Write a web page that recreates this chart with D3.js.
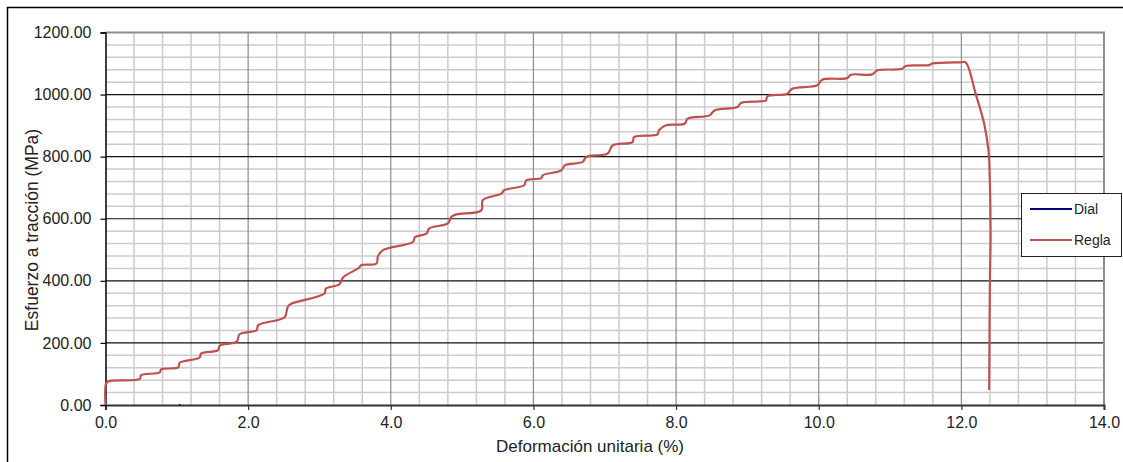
<!DOCTYPE html>
<html>
<head>
<meta charset="utf-8">
<script src="https://cdnjs.cloudflare.com/ajax/libs/d3/7.8.5/d3.min.js"></script>
<style>
  body { margin:0; background:#fff; }
  text { font-family:"Liberation Sans", Arial, sans-serif; fill:#222; }
</style>
</head>
<body>
<div id="chart-area"></div>
<script>
// strain (%) and stress (MPa), series "Regla"
var reglaStrain = [0, 0.01, 0.05, 0.48, 0.50, 0.76, 0.78, 1.02, 1.04, 1.32, 1.34, 1.58, 1.60, 1.84, 1.88,
  2.12, 2.14, 2.51, 2.54, 2.56, 2.61, 3.07, 3.09, 3.28, 3.33, 3.56, 3.58, 3.80, 3.82, 3.89,
  4.31, 4.34, 4.50, 4.54, 4.80, 4.85, 4.92, 5.27, 5.29, 5.55, 5.59, 5.87, 5.90, 6.11, 6.13,
  6.39, 6.44, 6.69, 6.74, 7.04, 7.11, 7.39, 7.41, 7.74, 7.76, 7.86, 8.12, 8.16, 8.47, 8.54,
  8.86, 8.91, 9.17, 9.26, 9.28, 9.56, 9.63, 9.98, 10.05, 10.40, 10.45, 10.75, 10.82, 11.17,
  11.22, 11.55, 11.59, 11.99, 12.06, 12.20, 12.32, 12.38, 12.40, 12.41, 12.40, 12.39];
var reglaStress = [0, 70, 77, 84, 96, 105, 115, 121, 136, 153, 166, 177, 191, 204, 228,
  241, 257, 282, 302, 318, 327, 359, 375, 389, 411, 443, 450, 456, 479, 499,
  525, 541, 552, 569, 585, 606, 614, 627, 660, 681, 692, 708, 724, 731, 740,
  756, 772, 783, 799, 810, 836, 847, 863, 872, 885, 901, 906, 922, 933, 949,
  960, 973, 978, 981, 994, 1003, 1019, 1030, 1048, 1053, 1064, 1065, 1078, 1083,
  1092, 1095, 1100, 1104, 1104, 1003, 906, 820, 713, 550, 392, 48];

// series "Dial" (only a speck near the origin)
var dialStrain = [1.03, 1.05];
var dialStress = [0, 0];

var seriesNames = ["Dial", "Regla"];
var seriesColors = ["#000080", "#c0504d"];

var yTicks = [0, 200, 400, 600, 800, 1000, 1200];
var xTicks = [0, 2, 4, 6, 8, 10, 12, 14];

var margin = { left:105.5, right:19, top:32.5, bottom:57 };
var W = 1123, H = 462;
var width = W - margin.left - margin.right,
    height = H - margin.top - margin.bottom;

var svg = d3.select("#chart-area")
    .append("svg")
        .attr("width", W)
        .attr("height", H);

// outer frame (only left + top visible)
svg.append("rect")
    .attr("x", 7.5).attr("y", 7.5)
    .attr("width", 1300).attr("height", 600)
    .attr("fill", "none")
    .attr("stroke", "#000")
    .attr("stroke-width", 1.5);

var g = svg.append("g")
    .attr("transform", "translate(" + margin.left + ", " + margin.top + ")");

var x = d3.scaleLinear().domain([0, 14]).range([0, width]);
var y = d3.scaleLinear().domain([0, 1200]).range([height, 0]);

// minor grid
var xMinor = d3.range(0, 14.001, 0.4).filter(function(d){ return Math.abs(d / 2 - Math.round(d / 2)) > 0.01; });
var yMinor = d3.range(0, 1200, 40).filter(function(d){ return d % 200 != 0; });

g.append("g").selectAll("line")
    .data(xMinor)
    .enter().append("line")
      .attr("x1", function(d){ return x(d); })
      .attr("x2", function(d){ return x(d); })
      .attr("y1", 0).attr("y2", height)
      .attr("stroke", "#cccccc").attr("stroke-width", 1.5);

g.append("g").selectAll("line")
    .data(yMinor)
    .enter().append("line")
      .attr("y1", function(d){ return y(d); })
      .attr("y2", function(d){ return y(d); })
      .attr("x1", 0).attr("x2", width)
      .attr("stroke", "#cccccc").attr("stroke-width", 1.5);

// major grid
g.append("g").selectAll("line")
    .data(xTicks.slice(1, -1))
    .enter().append("line")
      .attr("x1", function(d){ return x(d); })
      .attr("x2", function(d){ return x(d); })
      .attr("y1", 0).attr("y2", height)
      .attr("stroke", "#8c8c8c").attr("stroke-width", 1.2);

g.append("g").selectAll("line")
    .data(yTicks.slice(1, -1))
    .enter().append("line")
      .attr("y1", function(d){ return y(d); })
      .attr("y2", function(d){ return y(d); })
      .attr("x1", 0).attr("x2", width)
      .attr("stroke", "#111").attr("stroke-width", 1.2);

// plot border top + right
g.append("path")
    .attr("d", "M0,0H" + width + "V" + height)
    .attr("fill", "none")
    .attr("stroke", "#8c8c8c")
    .attr("stroke-width", 2);

// axes
var xAxisCall = d3.axisBottom(x)
    .tickValues(xTicks)
    .tickSize(5)
    .tickFormat(d3.format(".1f"));
var xAxisGroup = g.append("g")
    .attr("class", "x-axis")
    .attr("transform", "translate(0," + height + ")")
    .call(xAxisCall);
xAxisGroup.select(".domain").attr("stroke", "#333").attr("stroke-width", 2);
xAxisGroup.selectAll(".tick line").attr("stroke", "#333").attr("stroke-width", 1.2);
xAxisGroup.selectAll("text")
    .attr("font-size", "16px")
    .attr("y", 12)
    .attr("dy", "0.71em");

var yAxisCall = d3.axisLeft(y)
    .tickValues(yTicks)
    .tickSize(5)
    .tickFormat(d3.format(".2f"));
var yAxisGroup = g.append("g")
    .attr("class", "y-axis")
    .call(yAxisCall);
yAxisGroup.select(".domain").attr("stroke", "#000").attr("stroke-width", 1.5);
yAxisGroup.selectAll(".tick line").attr("stroke", "#000").attr("stroke-width", 1.2);
yAxisGroup.selectAll("text")
    .attr("font-size", "16px")
    .attr("x", -14);
svg.selectAll(".tick text").attr("fill", "#222");

// axis labels
svg.append("text")
    .attr("x", 590)
    .attr("y", 452)
    .attr("font-size", "17px")
    .attr("text-anchor", "middle")
    .text("Deformación unitaria (%)");

svg.append("text")
    .attr("transform", "translate(38,230) rotate(-90)")
    .attr("font-size", "17.5px")
    .attr("text-anchor", "middle")
    .text("Esfuerzo a tracción (MPa)");

// lines
var line = d3.line()
    .curve(d3.curveCatmullRom.alpha(0.5))
    .x(function(d){ return x(d[0]); })
    .y(function(d){ return y(d[1]); });

var regla = d3.zip(reglaStrain, reglaStress);
var dial = d3.zip(dialStrain, dialStress);

g.append("path")
    .datum(dial)
    .attr("d", line)
    .attr("fill", "none")
    .attr("stroke", seriesColors[0])
    .attr("stroke-width", 2);

g.append("path")
    .datum(regla)
    .attr("d", line)
    .attr("fill", "none")
    .attr("stroke", seriesColors[1])
    .attr("stroke-width", 2.2)
    .attr("stroke-linejoin", "round");

// legend
var legend = svg.append("g")
    .attr("transform", "translate(1021,193)");

legend.append("rect")
    .attr("x", 0.5).attr("y", 0.5)
    .attr("width", 100).attr("height", 63)
    .attr("fill", "#fff")
    .attr("stroke", "#222")
    .attr("stroke-width", 1);

var items = legend.selectAll(".item")
    .data(seriesNames)
    .enter().append("g")
      .attr("class", "item")
      .attr("transform", function(d, i){ return "translate(0," + (16 + i * 31) + ")"; });

items.append("line")
    .attr("x1", 9).attr("x2", 51)
    .attr("stroke", function(d, i){ return seriesColors[i]; })
    .attr("stroke-width", 2);

items.append("text")
    .attr("x", 53)
    .attr("dy", "0.35em")
    .attr("font-size", "14px")
    .text(function(d){ return d; });
</script>
</body>
</html>
